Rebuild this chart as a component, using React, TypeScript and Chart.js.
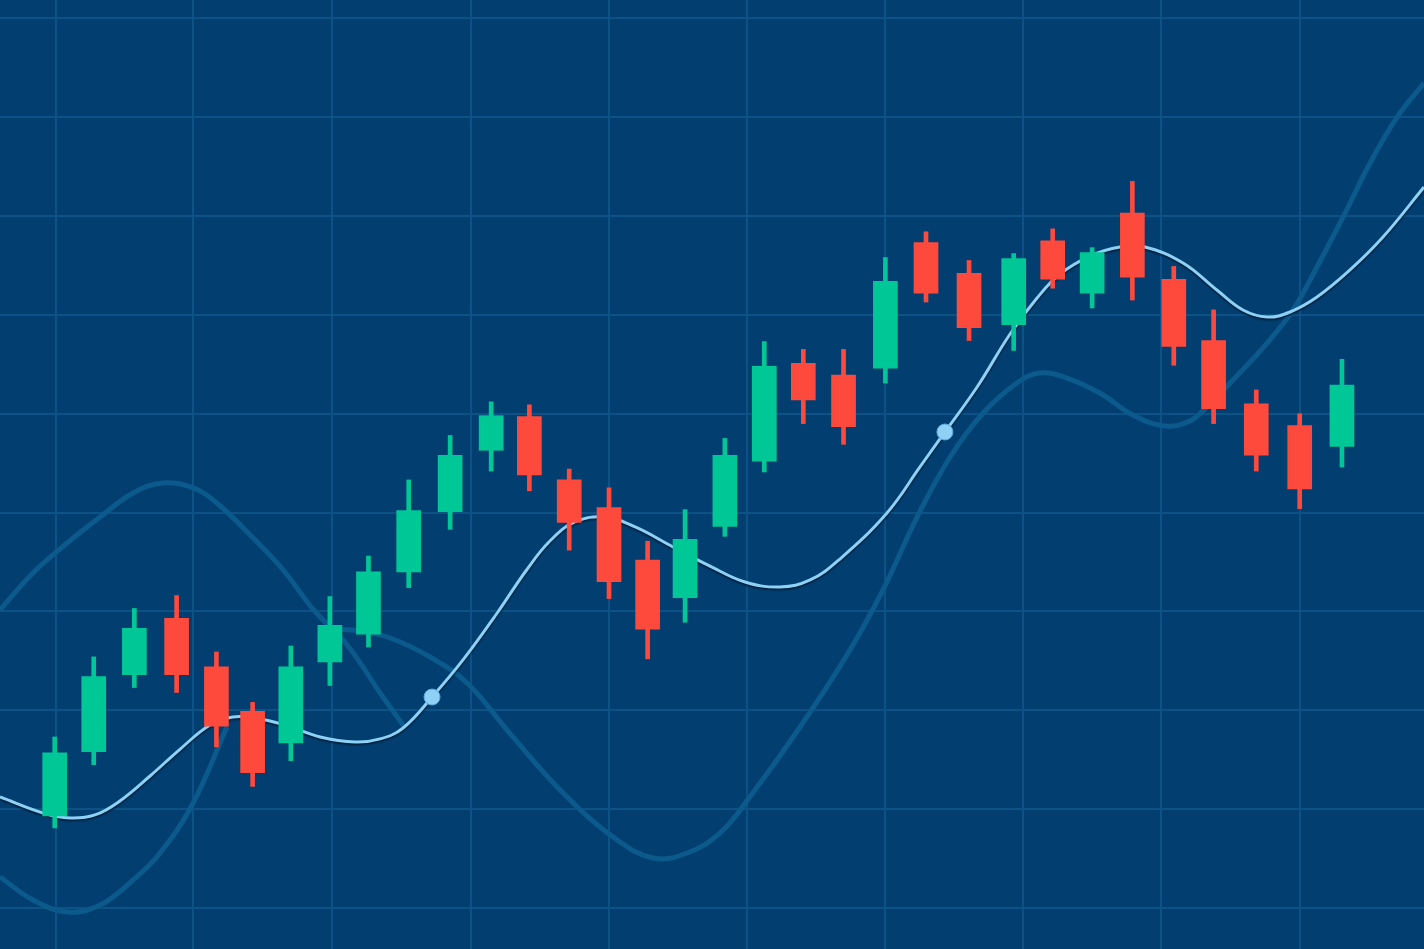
import { useEffect, useRef } from "react";
import { Chart, registerables } from "chart.js";

Chart.register(...registerables);

// ---- candle data ----
const TIMES = [0, 0.97, 1.98, 3.03, 4.02, 4.92, 5.87, 6.84, 7.8, 8.8, 9.83, 10.85, 11.8, 12.79, 13.78, 14.74, 15.67, 16.66, 17.64, 18.61, 19.61, 20.65, 21.66, 22.73, 23.84, 24.81, 25.79, 26.79, 27.82, 28.81, 29.87, 30.95, 32.0];
const OPEN = [19.3, 25.8, 33.6, 39.3, 34.4, 29.9, 26.7, 34.9, 37.7, 44.0, 50.1, 56.3, 59.7, 53.3, 50.5, 45.2, 41.4, 48.6, 55.2, 65.1, 63.9, 64.6, 77.3, 74.2, 69.0, 77.5, 72.2, 80.3, 73.6, 67.4, 61.0, 58.8, 56.7];
const HIGH = [27.3, 35.4, 40.3, 41.6, 35.9, 30.8, 36.5, 41.5, 45.6, 53.3, 57.8, 61.2, 60.9, 54.4, 52.5, 47.1, 50.3, 57.5, 67.3, 66.5, 66.5, 75.8, 78.4, 75.5, 76.2, 78.7, 76.8, 83.5, 74.9, 70.5, 62.4, 60.0, 65.5];
const LOW = [18.1, 24.5, 32.3, 31.8, 26.3, 22.3, 24.9, 32.5, 36.4, 42.4, 48.3, 54.2, 52.2, 46.2, 41.3, 35.2, 38.9, 47.6, 54.1, 59.0, 56.9, 63.1, 71.3, 67.4, 66.4, 72.7, 70.7, 71.5, 64.9, 59.0, 54.2, 50.4, 54.6];
const CLOSE = [25.7, 33.4, 38.3, 33.6, 28.4, 23.7, 34.4, 38.6, 44.0, 50.2, 55.8, 59.8, 53.8, 49.0, 43.0, 38.2, 47.3, 55.8, 64.8, 61.4, 58.7, 73.4, 72.2, 68.7, 75.7, 73.6, 76.3, 73.8, 66.8, 60.5, 55.8, 52.4, 62.9];

// ---- moving average (light line) ----
const MA_T = [-1.36, -0.29, 0.38, 1.0, 1.62, 2.37, 3.12, 3.86, 4.43, 4.98, 5.73, 6.6, 7.47, 8.09, 8.66, 9.38, 10.15, 11.0, 11.73, 12.31, 12.93, 13.68, 14.43, 15.37, 16.29, 17.16, 18.03, 18.78, 19.52, 20.69, 21.51, 22.13, 22.93, 23.75, 24.42, 24.99, 25.74, 26.48, 27.1, 28.05, 28.89, 29.54, 30.14, 30.71, 31.38, 32.2, 33.02, 34.04];
const MA_V = [21.23, 19.61, 19.1, 19.41, 20.82, 23.35, 26.08, 28.51, 29.32, 29.22, 28.51, 27.3, 26.79, 27.1, 28.21, 31.34, 35.09, 39.84, 44.19, 47.12, 49.05, 49.55, 48.54, 46.52, 44.59, 42.98, 42.47, 43.18, 45.3, 49.96, 54.61, 58.15, 62.7, 68.06, 71.7, 74.13, 75.95, 76.86, 76.86, 75.24, 72.51, 70.49, 69.78, 70.29, 71.8, 74.54, 77.87, 82.93];
const SIGNAL_IDX = [15, 31];

// ---- upper band (dark line) ----
const UPPER_T = [-1.36, -0.54, 0.31, 1.13, 1.95, 2.69, 3.44, 4.03, 4.86, 5.68, 6.42, 7.27, 8.09, 8.71];
const UPPER_V = [40.14, 43.89, 46.92, 49.55, 51.98, 52.99, 52.49, 50.97, 47.73, 44.19, 40.24, 36.6, 31.75, 28.21];

// ---- lower band (dark line, with a gap) ----
const LOWER_T = [-1.36, -0.54, 0.31, 1.13, 1.95, 2.62, 3.44, 4.28, 5.5, 6.92, 7.59, 8.34, 9.33, 10.25, 11.39, 12.64, 13.88, 14.87, 15.72, 16.54, 17.28, 18.53, 19.77, 20.59, 21.44, 22.26, 23.08, 23.92, 24.49, 25.16, 25.98, 26.8, 27.6, 28.22, 28.64, 29.29, 30.14, 30.78, 31.38, 32.03, 32.7, 33.37, 34.04];
const LOWER_V = [13.14, 10.81, 9.6, 10.3, 12.83, 15.56, 20.62, 28.31, null, 38.22, 38.02, 37.31, 35.39, 32.76, 27.3, 21.63, 17.18, 15.06, 15.56, 17.59, 21.23, 28.31, 36.1, 42.17, 49.55, 55.62, 60.07, 63.11, 64.12, 63.61, 62.09, 59.87, 58.76, 59.26, 60.68, 63.41, 67.15, 70.49, 74.84, 79.9, 85.36, 90.01, 93.45];

// ---- axes ----
const X_MIN = -1.36;
const X_MAX = 34.04;
const Y_MIN = 5.85;
const Y_MAX = 101.85;
const GRID_X = [0.02, 3.43, 6.9, 10.35, 13.79, 17.22, 20.65, 24.08, 27.49, 30.96];
const GRID_Y = [10, 20, 30, 40, 50, 60, 70, 80, 90, 100];

const BG = "#023f70";
const GRID = "#0c5284";
const UP = "#00c796";
const DOWN = "#fe4a3c";
const BAND = "#0b5a8b";
const MA = "#8dd2f5";

const shadowPlugin = {
  id: "maShadow",
  beforeDatasetDraw(chart: any, args: any) {
    if (chart.data.datasets[args.index].label !== "MA") return;
    const ctx = chart.ctx;
    ctx.save();
    ctx.shadowColor = "rgba(0, 20, 48, 0.9)";
    ctx.shadowBlur = 2;
    ctx.shadowOffsetX = 0;
    ctx.shadowOffsetY = 1.5;
  },
  afterDatasetDraw(chart: any, args: any) {
    if (chart.data.datasets[args.index].label !== "MA") return;
    chart.ctx.restore();
  },
};

export default function App() {
  const ref = useRef<HTMLCanvasElement | null>(null);

  useEffect(() => {
    if (!ref.current) return;
    const candleColor = (c: any) => {
      const i = c.dataIndex;
      return CLOSE[i] >= OPEN[i] ? UP : DOWN;
    };
    const chart = new Chart(ref.current, {
      type: "line",
      data: {
        datasets: [
          {
            type: "line",
            label: "Signals",
            data: SIGNAL_IDX.map((i) => ({ x: MA_T[i], y: MA_V[i] })),
            showLine: false,
            pointRadius: 8,
            pointBackgroundColor: "#8fd0f6",
            pointBorderColor: "#5ba9dc",
            pointBorderWidth: 1,
            order: 0,
          } as any,
          {
            type: "bar",
            label: "Body",
            data: TIMES.map((t, i) => ({ x: t, y: [OPEN[i], CLOSE[i]] })),
            backgroundColor: candleColor,
            barThickness: 24,
            grouped: false,
            order: 1,
          } as any,
          {
            type: "bar",
            label: "Wick",
            data: TIMES.map((t, i) => ({ x: t, y: [LOW[i], HIGH[i]] })),
            backgroundColor: candleColor,
            barThickness: 4,
            grouped: false,
            order: 2,
          } as any,
          {
            type: "line",
            label: "MA",
            data: MA_T.map((t, i) => ({ x: t, y: MA_V[i] })),
            borderColor: MA,
            borderWidth: 3,
            pointRadius: 0,
            tension: 0.4,
            order: 3,
          } as any,
          {
            type: "line",
            label: "Upper",
            data: UPPER_T.map((t, i) => ({ x: t, y: UPPER_V[i] })),
            borderColor: BAND,
            borderWidth: 5,
            pointRadius: 0,
            tension: 0.4,
            order: 4,
          } as any,
          {
            type: "line",
            label: "Lower",
            data: LOWER_T.map((t, i) => ({ x: t, y: LOWER_V[i] })),
            borderColor: BAND,
            borderWidth: 5,
            pointRadius: 0,
            spanGaps: false,
            tension: 0.4,
            order: 5,
          } as any,
        ],
      },
      options: {
        responsive: false,
        animation: false,
        layout: { padding: 0, autoPadding: false },
        plugins: { legend: { display: false }, tooltip: { enabled: false } },
        scales: {
          x: {
            type: "linear",
            min: X_MIN,
            max: X_MAX,
            offset: false,
            afterBuildTicks: (s: any) => {
              s.ticks = GRID_X.map((v) => ({ value: v }));
            },
            ticks: { display: false },
            border: { display: false },
            grid: { color: GRID, lineWidth: 2, drawTicks: false, offset: false },
          },
          y: {
            type: "linear",
            min: Y_MIN,
            max: Y_MAX,
            beginAtZero: false,
            afterBuildTicks: (s: any) => {
              s.ticks = GRID_Y.map((v) => ({ value: v }));
            },
            ticks: { display: false },
            border: { display: false },
            grid: { color: GRID, lineWidth: 2, drawTicks: false },
          },
        },
      } as any,
      plugins: [shadowPlugin],
    });
    return () => chart.destroy();
  }, []);

  return (
    <div style={{ position: "fixed", left: 0, top: 0, width: 1424, height: 949, background: BG, overflow: "hidden" }}>
      <canvas ref={ref} width={1424} height={949} style={{ display: "block" }} />
    </div>
  );
}
